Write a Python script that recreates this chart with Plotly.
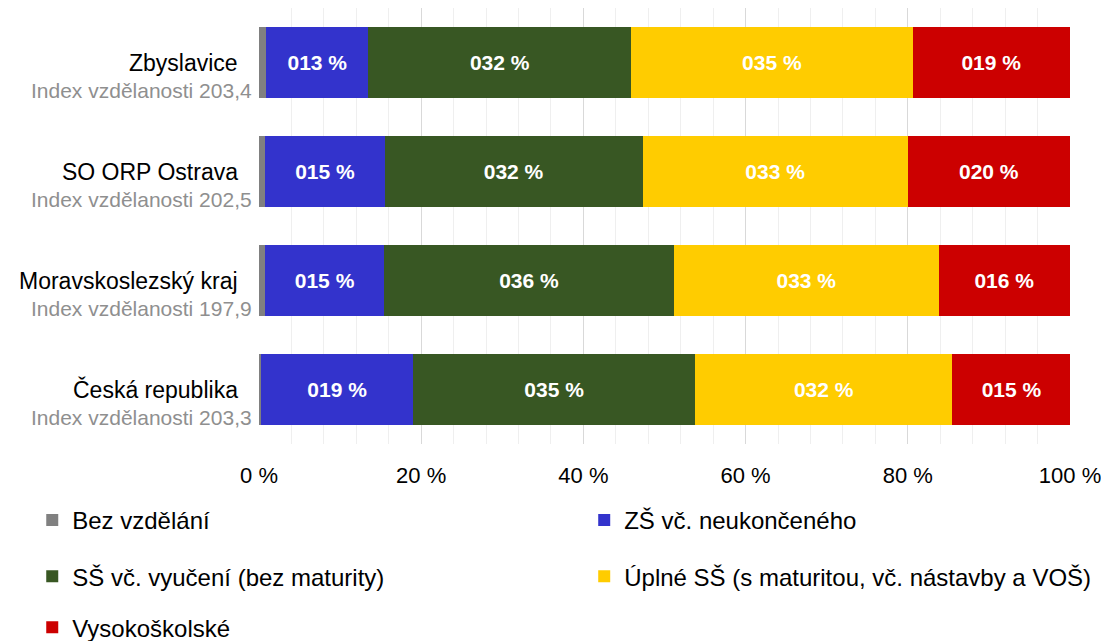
import plotly.graph_objects as go

categories = ["Zbyslavice", "SO ORP Ostrava", "Moravskoslezský kraj", "Česká republika"]
index_labels = ["Index vzdělanosti 203,4", "Index vzdělanosti 202,5",
                "Index vzdělanosti 197,9", "Index vzdělanosti 203,3"]

series_names = ["Bez vzdělání", "ZŠ vč. neukončeného", "SŠ vč. vyučení (bez maturity)",
                "Úplné SŠ (s maturitou, vč. nástavby a VOŠ)", "Vysokoškolské"]
bez = [0.9, 0.8, 0.8, 0.3]
zs = [12.6, 14.7, 14.6, 18.7]
ss = [32.4, 31.8, 35.8, 34.8]
uplne = [34.7, 32.7, 32.6, 31.7]
vs = [19.4, 20.0, 16.2, 14.6]
series_values = [bez, zs, ss, uplne, vs]
colors = ["#808080", "#3333CC", "#385723", "#FFCC00", "#CC0000"]

x_tickvals = [0, 20, 40, 60, 80, 100]
x_ticktext = ["0 %", "20 %", "40 %", "60 %", "80 %", "100 %"]

FONT = "Liberation Sans, Arial, sans-serif"

legend_ids = ["legend", "legend2", "legend3", "legend4", "legend5"]
# legend placement (paper coords): two columns, three rows
col_x = [-0.2796, 0.401]
row_y = [-0.175, -0.304, -0.421]
legend_pos = [(col_x[0], row_y[0]), (col_x[1], row_y[0]),
              (col_x[0], row_y[1]), (col_x[1], row_y[1]),
              (col_x[0], row_y[2])]

fig = go.Figure()
for i, (name, vals, col, lg) in enumerate(zip(series_names, series_values, colors, legend_ids)):
    fig.add_trace(go.Bar(
        y=categories, x=vals, name=name, orientation="h",
        marker=dict(color=col, line=dict(width=0)),
        width=0.66,
        texttemplate=None if i == 0 else "%{x:03.0f} %",
        textposition="none" if i == 0 else "inside",
        insidetextanchor="middle",
        textangle=0,
        textfont=dict(color="white", size=21, family=FONT, weight="bold"),
        legend=lg,
        hoverinfo="x+name",
    ))

annotations = []
for cat, idx in zip(categories, index_labels):
    annotations.append(dict(xref="paper", yref="y", x=0, y=cat, text=cat,
                            xanchor="right", yanchor="middle", xshift=-19, yshift=0,
                            showarrow=False, font=dict(size=23, color="black", family=FONT)))
    annotations.append(dict(xref="paper", yref="y", x=0, y=cat, text=idx,
                            xanchor="right", yanchor="middle", xshift=-5, yshift=-28,
                            showarrow=False, font=dict(size=21, color="#8f8f8f", family=FONT)))

layout_legends = {}
for lg, (lx, ly) in zip(legend_ids, legend_pos):
    layout_legends[lg] = dict(x=lx, y=ly, xanchor="left", yanchor="middle",
                              orientation="v",
                              font=dict(size=24, color="black", family=FONT),
                              bgcolor="rgba(0,0,0,0)",
                              itemclick=False, itemdoubleclick=False)

fig.update_layout(
    width=1109, height=641,
    margin=dict(l=251, r=47, t=0, b=205, autoexpand=False),
    barmode="stack",
    plot_bgcolor="white", paper_bgcolor="white",
    showlegend=True,
    font=dict(family=FONT, color="black"),
    annotations=annotations,
    xaxis=dict(range=[0, 100], tickmode="array", tickvals=x_tickvals, ticktext=x_ticktext,
               showgrid=True, gridcolor="#d9d9d9", gridwidth=1,
               minor=dict(dtick=4, showgrid=True, gridcolor="#efefef", gridwidth=1),
               zeroline=False, showline=False,
               tickfont=dict(size=22, color="black", family=FONT),
               ticklabelstandoff=16),
    yaxis=dict(autorange="reversed", showticklabels=False, showgrid=False,
               zeroline=False, showline=False),
    **layout_legends,
)

fig.write_html("out.html")
